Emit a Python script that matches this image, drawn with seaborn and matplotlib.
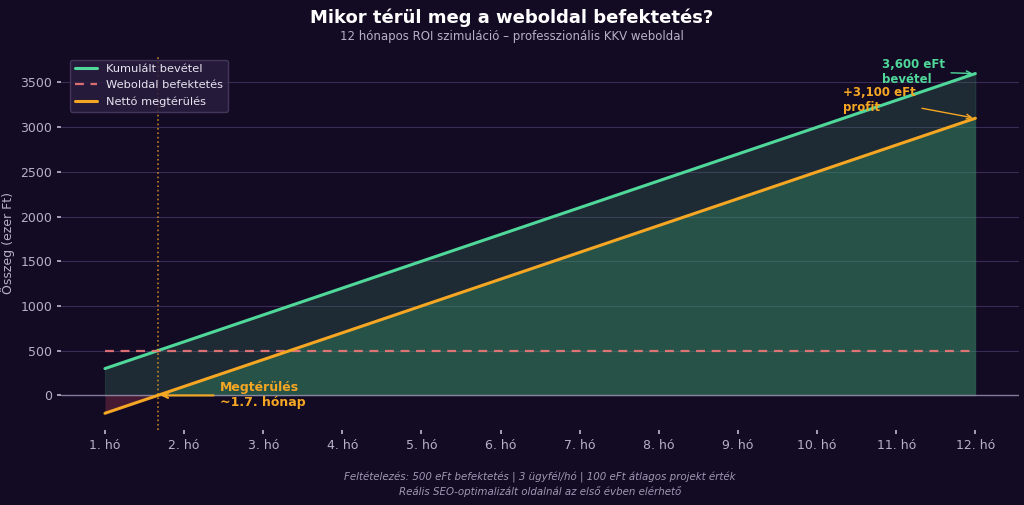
import numpy as np
import pandas as pd
import seaborn as sns
import matplotlib.pyplot as plt

# adatok (ezer Ft)
honapok = list(range(1, 13))
honap_cimkek = [f"{h}. hó" for h in honapok]
kumulalt_bevetel = [300, 600, 900, 1200, 1500, 1800, 2100, 2400, 2700, 3000, 3300, 3600]
befektetes = [500] * 12
netto = [-200, 100, 400, 700, 1000, 1300, 1600, 1900, 2200, 2500, 2800, 3100]
megterules_ho = 1.67

BG = "#130a24"
GREEN = "#4fd89a"
RED = "#f07878"
ORANGE = "#f5a623"
TXT = "#b8b0c8"


def main():
    sns.set_theme(style="dark")
    plt.rcParams["font.family"] = ["DejaVu Sans"]

    df = pd.DataFrame({
        "ho": honapok,
        "Kumulált bevétel": kumulalt_bevetel,
        "Weboldal befektetés": befektetes,
        "Nettó megtérülés": netto,
    })

    fig = plt.figure(figsize=(10.24, 5.05), dpi=100, facecolor=BG)
    ax = fig.add_axes([0.060, 0.148, 0.935, 0.74])
    ax.set_facecolor(BG)

    x = np.array(honapok)
    cum = np.array(kumulalt_bevetel)
    net = np.array(netto)

    # kitöltések
    ax.fill_between(x, 0, cum, color="#39755b", alpha=0.3, lw=0.8)
    ax.fill_between(x, 0, net, where=net >= 0, interpolate=True, color="#369f6f", alpha=0.35, lw=0)
    ax.fill_between(x, 0, net, where=net <= 0, interpolate=True, color="#c0405a", alpha=0.3, lw=0)

    ax.axhline(0, color="#9a90b0", lw=1, alpha=0.8)

    sns.lineplot(data=df, x="ho", y="Kumulált bevétel", ax=ax, color=GREEN, lw=2.2,
                 label="Kumulált bevétel")
    sns.lineplot(data=df, x="ho", y="Weboldal befektetés", ax=ax, color=RED, lw=1.6,
                 linestyle=(0, (4, 3)), alpha=0.9, label="Weboldal befektetés")
    sns.lineplot(data=df, x="ho", y="Nettó megtérülés", ax=ax, color=ORANGE, lw=2.2,
                 label="Nettó megtérülés")

    ax.axvline(megterules_ho, color=ORANGE, lw=1.2, linestyle=":", alpha=0.75)

    ax.annotate("Megtérülés\n~1.7. hónap", xy=(megterules_ho, 0), xytext=(2.45, 0),
                color=ORANGE, fontsize=9, fontweight="bold", va="center",
                arrowprops=dict(arrowstyle="->", color=ORANGE, lw=1.5))
    ax.annotate("3,600 eFt\nbevétel", xy=(12, kumulalt_bevetel[-1]), xytext=(10.82, 3620),
                color=GREEN, fontsize=8.5, fontweight="bold", va="center",
                arrowprops=dict(arrowstyle="->", color=GREEN, lw=1))
    ax.annotate("+3,100 eFt\nprofit", xy=(12, netto[-1]), xytext=(10.33, 3300),
                color=ORANGE, fontsize=8.5, fontweight="bold", va="center",
                arrowprops=dict(arrowstyle="->", color=ORANGE, lw=1))

    ax.set_xticks(honapok)
    ax.set_xticklabels(honap_cimkek)
    ax.set_yticks([0, 500, 1000, 1500, 2000, 2500, 3000, 3500])
    ax.tick_params(colors=TXT, labelsize=9, length=3, bottom=True, left=True)
    ax.set_xlabel("")
    ax.set_ylabel("Összeg (ezer Ft)", color=TXT, fontsize=9)
    ax.grid(axis="y", color="#3a2d55", lw=0.8)
    ax.grid(axis="x", visible=False)
    for s in ax.spines.values():
        s.set_visible(False)

    leg = ax.legend(loc="upper left", fontsize=8.2, facecolor="#2a1d40", edgecolor="#4a3d60",
                    framealpha=0.85, bbox_to_anchor=(0.003, 1.007), labelspacing=0.55)
    for t in leg.get_texts():
        t.set_color("#e8e4f0")

    fig.text(0.5, 0.965, "Mikor térül meg a weboldal befektetés?", ha="center", va="center",
             color="white", fontsize=13, fontweight="bold")
    fig.text(0.5, 0.928, "12 hónapos ROI szimuláció – professzionális KKV weboldal", ha="center",
             va="center", color=TXT, fontsize=8.5)
    fig.text(0.5275, 0.04, "Feltételezés: 500 eFt befektetés | 3 ügyfél/hó | 100 eFt átlagos projekt érték\n"
             "Reális SEO-optimalizált oldalnál az első évben elérhető", ha="center", va="center",
             color="#a098b4", fontsize=7.4, style="italic", linespacing=1.3)

    fig.savefig("out.png", dpi=100, facecolor=BG)
    plt.close(fig)


if __name__ == "__main__":
    main()
